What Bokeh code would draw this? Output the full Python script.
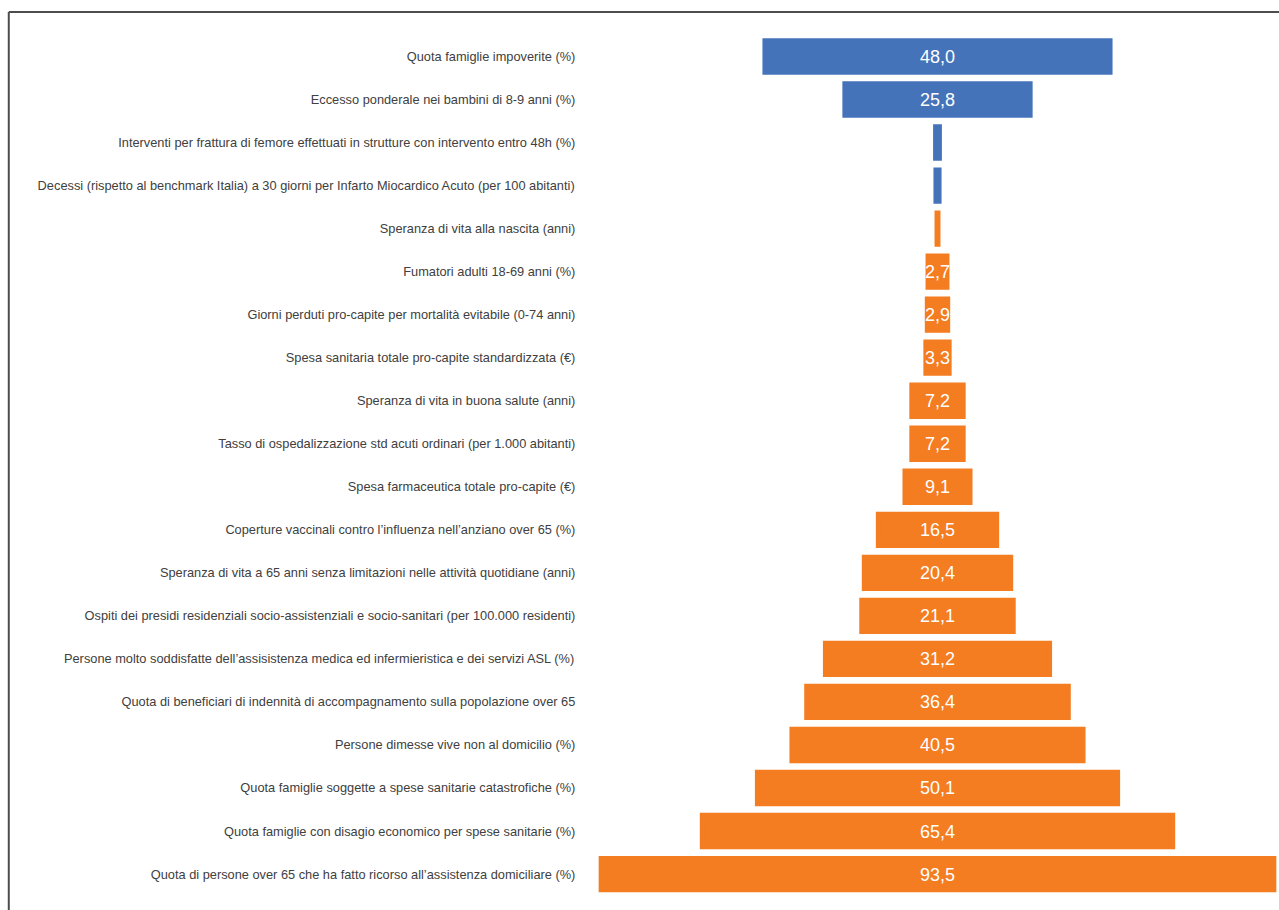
from bokeh.plotting import figure
from bokeh.models import ColumnDataSource
from bokeh.core.properties import value
from bokeh.embed import file_html
from bokeh.resources import INLINE

# ---- data (top to bottom) ----
categories = [
    "Quota famiglie impoverite (%)",
    "Eccesso ponderale nei bambini di 8-9 anni (%)",
    "Interventi per frattura di femore effettuati in strutture con intervento entro 48h (%)",
    "Decessi (rispetto al benchmark Italia) a 30 giorni per Infarto Miocardico Acuto (per 100 abitanti)",
    "Speranza di vita alla nascita (anni)",
    "Fumatori adulti 18-69 anni (%)",
    "Giorni perduti pro-capite per mortalità evitabile (0-74 anni)",
    "Spesa sanitaria totale pro-capite standardizzata (€)",
    "Speranza di vita in buona salute (anni)",
    "Tasso di ospedalizzazione std acuti ordinari (per 1.000 abitanti)",
    "Spesa farmaceutica totale pro-capite (€)",
    "Coperture vaccinali contro l’influenza nell’anziano over 65 (%)",
    "Speranza di vita a 65 anni senza limitazioni nelle attività quotidiane (anni)",
    "Ospiti dei presidi residenziali socio-assistenziali e socio-sanitari (per 100.000 residenti)",
    "Persone molto soddisfatte dell’assisistenza medica ed infermieristica e dei servizi ASL (%)",
    "Quota di beneficiari di indennità di accompagnamento sulla popolazione over 65",
    "Persone dimesse vive non al domicilio (%)",
    "Quota famiglie soggette a spese sanitarie catastrofiche (%)",
    "Quota famiglie con disagio economico per spese sanitarie (%)",
    "Quota di persone over 65 che ha fatto ricorso all’assistenza domiciliare (%)",
]
values = [48.0, 25.8, 0.6, 0.5, 0.2, 2.7, 2.9, 3.3, 7.2, 7.2, 9.1, 16.5,
          20.4, 21.1, 31.2, 36.4, 40.5, 50.1, 65.4, 93.5]
groups = ["blue"] * 4 + ["orange"] * 16
value_labels = ["48,0", "25,8", "", "", "", "2,7", "2,9", "3,3", "7,2", "7,2",
                "9,1", "16,5", "20,4", "21,1", "31,2", "36,4", "40,5", "50,1",
                "65,4", "93,5"]

# ---- styles ----
BLUE = "#4473BA"
ORANGE = "#F47C21"
FONT = "Liberation Sans"

n = len(categories)
rows = [n - 1 - i for i in range(n)]
colors = [BLUE if g == "blue" else ORANGE for g in groups]

src = ColumnDataSource(dict(
    cat=categories,
    y=rows,
    left=[-v / 2 for v in values],
    right=[v / 2 for v in values],
    color=colors,
    vlab=value_labels,
))

X_START, X_END = -130.14, 47.5
Y_START, Y_END = -0.847, 20.301
LABEL_X = -50.3
BORDER_X = -128.99
BORDER_Y = 20.034

p = figure(width=1279, height=910, x_range=(X_START, X_END), y_range=(Y_START, Y_END),
           x_axis_type=None, y_axis_type=None, toolbar_location=None,
           output_backend="svg", min_border=0, outline_line_color=None,
           background_fill_color="white", border_fill_color="white")
p.xgrid.visible = False
p.ygrid.visible = False

p.hbar(y="y", left="left", right="right", height=0.74, source=src,
       fill_color="color", line_color="color", line_width=4.5, line_join="miter")

p.text(x=0, y="y", text="vlab", source=src, text_align="center",
       text_baseline="middle", text_color="white", text_font=value(FONT),
       text_font_size="18px")

p.text(x=LABEL_X, y="y", text="cat", source=src, text_align="right",
       text_baseline="middle", text_color="#404040", text_font=value(FONT),
       text_font_size="12.8px")

# frame border (top and left)
p.segment(x0=[BORDER_X, BORDER_X], y0=[BORDER_Y, BORDER_Y],
          x1=[X_END, BORDER_X], y1=[BORDER_Y, Y_START],
          line_color="#4d4d4d", line_width=2)

open("out.html", "w").write(file_html(p, INLINE))
